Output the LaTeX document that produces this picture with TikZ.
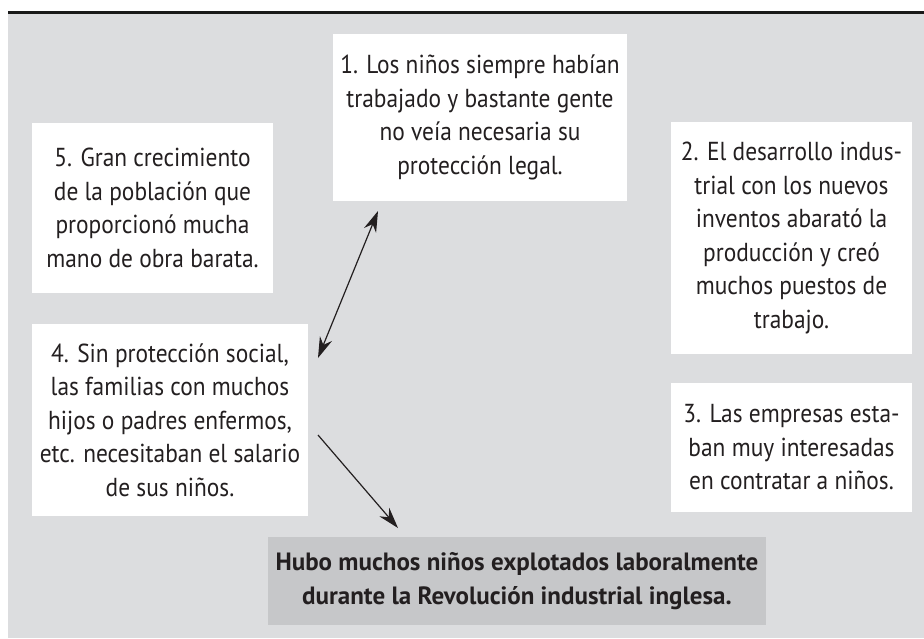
\documentclass[tikz,border=0pt]{standalone}
\usepackage{fontspec}
\setmainfont{PT Sans}
\newfontfamily\boxfont{PT Sans}[FakeStretch=0.9]
\usepackage{tikz}
\usetikzlibrary{positioning, arrows.meta}
\definecolor{bggray}{HTML}{DCDDDF}
\definecolor{resgray}{HTML}{C6C7C9}
\definecolor{txt}{HTML}{231F20}

\begin{document}
\begin{tikzpicture}[x=1pt,y=-1pt]
		\tikzstyle{box} = [fill=white, inner sep=0, align=center, text=txt, font=\boxfont\fontsize{26}{33.5}\selectfont]
		\tikzstyle{result} = [box, fill=resgray, font=\bfseries\fontsize{25}{33.5}\selectfont]
		\tikzstyle{stealth} = [{Stealth[length=21pt,width=13pt]}-{Stealth[length=21pt,width=13pt]}, line width=1.2pt, txt]
		\tikzstyle{onestealth} = [-{Stealth[length=21pt,width=13pt]}, line width=1.2pt, txt]
		\useasboundingbox (0,0) rectangle (924,638);
		\fill [bggray] (8,14) rectangle (924,638);
		\draw [line width=3pt, black!90] (8,12.5) -- (924,12.5);
		% causas
		\node [box, minimum width=294, minimum height=167] (c1) at (480,117.5) {1. Los niños siempre habían\\trabajado y bastante gente\\no veía necesaria su\\protección legal.};
		\node [box, minimum width=241, minimum height=232] (c2) at (791.5,238) {2. El desarrollo indus-\\trial con los nuevos\\inventos abarató la\\producción y creó\\muchos puestos de\\trabajo.};
		\node [box, minimum width=241, minimum height=129] (c3) at (791.5,447.5) {3. Las empresas esta-\\ban muy interesadas\\en contratar a niños.};
		\node [box, minimum width=276, minimum height=192] (c4) at (170,420) {4. Sin protección social,\\las familias con muchos\\hijos o padres enfermos,\\etc. necesitaban el salario\\de sus niños.};
		\node [box, minimum width=241, minimum height=170] (c5) at (152.5,208) {5. Gran crecimiento\\de la población que\\proporcionó mucha\\mano de obra barata.};
		% consecuencia
		\node [result, minimum width=498, minimum height=88] (r) at (517,581) {Hubo muchos niños explotados laboralmente\\durante la Revolución industrial inglesa.};
		% flechas
		\coordinate (a1) at (378,211);
		\coordinate (a4) at (318,358);
		\coordinate (b4) at (318,435);
		\coordinate (br) at (398,528);
		\draw [stealth] (a1) -- (a4);
		\draw [onestealth] (b4) -- (br);
\end{tikzpicture}
\end{document}
